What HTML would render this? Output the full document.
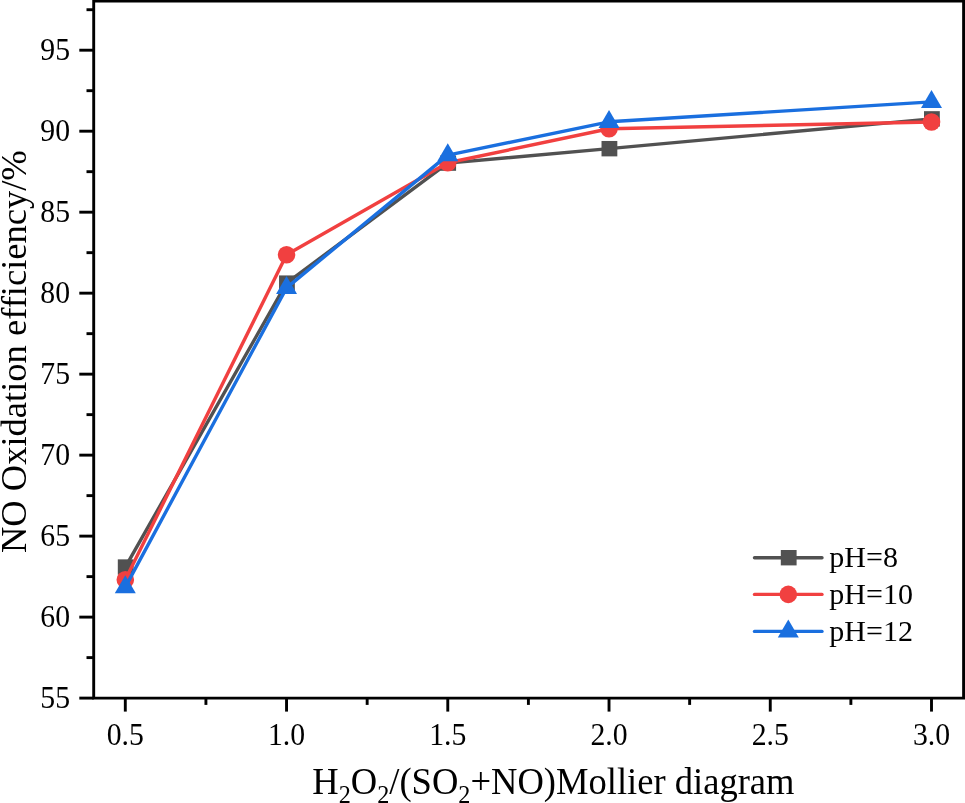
<!DOCTYPE html><html><head><meta charset="utf-8"><title>chart</title><style>html,body{margin:0;padding:0;background:#fff;overflow:hidden}svg{display:block;filter:grayscale(0)}text{font-family:"Liberation Serif","Times New Roman",serif;fill:#000}</style></head><body>
<svg width="965" height="803" viewBox="0 0 965 803">
<rect width="965" height="803" fill="#fff"/>
<polyline points="125.30,567.06 286.54,283.12 447.78,163.10 609.02,148.68 931.50,118.88" fill="none" stroke="#515151" stroke-width="3.4" stroke-linejoin="round" stroke-linecap="round"/>
<rect x="117.80" y="559.36" width="15.8" height="15.4" fill="#515151"/>
<rect x="279.04" y="275.42" width="15.8" height="15.4" fill="#515151"/>
<rect x="440.28" y="155.40" width="15.8" height="15.4" fill="#515151"/>
<rect x="601.52" y="140.98" width="15.8" height="15.4" fill="#515151"/>
<rect x="924.00" y="111.18" width="15.8" height="15.4" fill="#515151"/>
<polyline points="125.30,579.70 286.54,254.77 447.78,162.77 609.02,128.76 931.50,121.95" fill="none" stroke="#f14040" stroke-width="3.4" stroke-linejoin="round" stroke-linecap="round"/>
<circle cx="125.30" cy="579.70" r="8.8" fill="#f14040"/>
<circle cx="286.54" cy="254.77" r="8.8" fill="#f14040"/>
<circle cx="447.78" cy="162.77" r="8.8" fill="#f14040"/>
<circle cx="609.02" cy="128.76" r="8.8" fill="#f14040"/>
<circle cx="931.50" cy="121.95" r="8.8" fill="#f14040"/>
<polyline points="125.30,587.15 286.54,287.82 447.78,155.16 609.02,121.79 931.50,101.87" fill="none" stroke="#1a6fdf" stroke-width="3.4" stroke-linejoin="round" stroke-linecap="round"/>
<polygon points="125.30,575.25 114.80,593.25 135.80,593.25" fill="#1a6fdf"/>
<polygon points="286.54,275.92 276.04,293.92 297.04,293.92" fill="#1a6fdf"/>
<polygon points="447.78,143.26 437.28,161.26 458.28,161.26" fill="#1a6fdf"/>
<polygon points="609.02,109.89 598.52,127.89 619.52,127.89" fill="#1a6fdf"/>
<polygon points="931.50,89.97 921.00,107.97 942.00,107.97" fill="#1a6fdf"/>
<g stroke="#000" stroke-width="2.9" fill="none" stroke-linecap="butt">
<path d="M93.7 1.0 V698.1 H963.6 V1.0 Z"/>
<path d="M79.3 698.10 H93.7"/>
<path d="M79.3 617.11 H93.7"/>
<path d="M79.3 536.12 H93.7"/>
<path d="M79.3 455.14 H93.7"/>
<path d="M79.3 374.15 H93.7"/>
<path d="M79.3 293.16 H93.7"/>
<path d="M79.3 212.18 H93.7"/>
<path d="M79.3 131.19 H93.7"/>
<path d="M79.3 50.20 H93.7"/>
<path d="M86.5 657.61 H93.7"/>
<path d="M86.5 576.62 H93.7"/>
<path d="M86.5 495.63 H93.7"/>
<path d="M86.5 414.64 H93.7"/>
<path d="M86.5 333.66 H93.7"/>
<path d="M86.5 252.67 H93.7"/>
<path d="M86.5 171.68 H93.7"/>
<path d="M86.5 90.69 H93.7"/>
<path d="M86.5 9.71 H93.7"/>
<path d="M125.30 698.1 V711.6"/>
<path d="M286.54 698.1 V711.6"/>
<path d="M447.78 698.1 V711.6"/>
<path d="M609.02 698.1 V711.6"/>
<path d="M770.26 698.1 V711.6"/>
<path d="M931.50 698.1 V711.6"/>
<path d="M205.92 698.1 V704.9"/>
<path d="M367.16 698.1 V704.9"/>
<path d="M528.40 698.1 V704.9"/>
<path d="M689.64 698.1 V704.9"/>
<path d="M850.88 698.1 V704.9"/>
</g>
<text transform="translate(70.0,708.0) scale(0.96,1)" font-size="31" text-anchor="end">55</text>
<text transform="translate(70.0,627.0) scale(0.96,1)" font-size="31" text-anchor="end">60</text>
<text transform="translate(70.0,546.0) scale(0.96,1)" font-size="31" text-anchor="end">65</text>
<text transform="translate(70.0,465.0) scale(0.96,1)" font-size="31" text-anchor="end">70</text>
<text transform="translate(70.0,384.1) scale(0.96,1)" font-size="31" text-anchor="end">75</text>
<text transform="translate(70.0,303.1) scale(0.96,1)" font-size="31" text-anchor="end">80</text>
<text transform="translate(70.0,222.1) scale(0.96,1)" font-size="31" text-anchor="end">85</text>
<text transform="translate(70.0,141.1) scale(0.96,1)" font-size="31" text-anchor="end">90</text>
<text transform="translate(70.0,60.1) scale(0.96,1)" font-size="31" text-anchor="end">95</text>
<text transform="translate(125.3,744.6) scale(0.96,1)" font-size="31" text-anchor="middle">0.5</text>
<text transform="translate(286.5,744.6) scale(0.96,1)" font-size="31" text-anchor="middle">1.0</text>
<text transform="translate(447.8,744.6) scale(0.96,1)" font-size="31" text-anchor="middle">1.5</text>
<text transform="translate(609.0,744.6) scale(0.96,1)" font-size="31" text-anchor="middle">2.0</text>
<text transform="translate(770.3,744.6) scale(0.96,1)" font-size="31" text-anchor="middle">2.5</text>
<text transform="translate(931.5,744.6) scale(0.96,1)" font-size="31" text-anchor="middle">3.0</text>
<text transform="translate(312.3,794) scale(0.988,1)" font-size="37">H<tspan font-size="24.5" dy="9.2">2</tspan><tspan dy="-9.2">O</tspan><tspan font-size="24.5" dy="9.2">2</tspan><tspan dy="-9.2">/(SO</tspan><tspan font-size="24.5" dy="9.2">2</tspan><tspan dy="-9.2">+NO)Mollier diagram</tspan></text>
<text transform="translate(26.0,553) rotate(-90) scale(1.000,1)" font-size="36.5">NO Oxidation efficiency/%</text>
<path d="M754.5 557.7 H822" stroke="#515151" stroke-width="3.4" stroke-linecap="round"/>
<rect x="780.80" y="550.00" width="15.8" height="15.4" fill="#515151"/>
<text x="829.3" y="567.0" font-size="30">pH=8</text>
<path d="M754.5 594.4 H822" stroke="#f14040" stroke-width="3.4" stroke-linecap="round"/>
<circle cx="788.30" cy="594.40" r="8.8" fill="#f14040"/>
<text x="829.3" y="603.7" font-size="30">pH=10</text>
<path d="M754.5 631.4 H822" stroke="#1a6fdf" stroke-width="3.4" stroke-linecap="round"/>
<polygon points="788.30,619.50 777.80,637.50 798.80,637.50" fill="#1a6fdf"/>
<text x="829.3" y="640.7" font-size="30">pH=12</text>
</svg></body></html>
